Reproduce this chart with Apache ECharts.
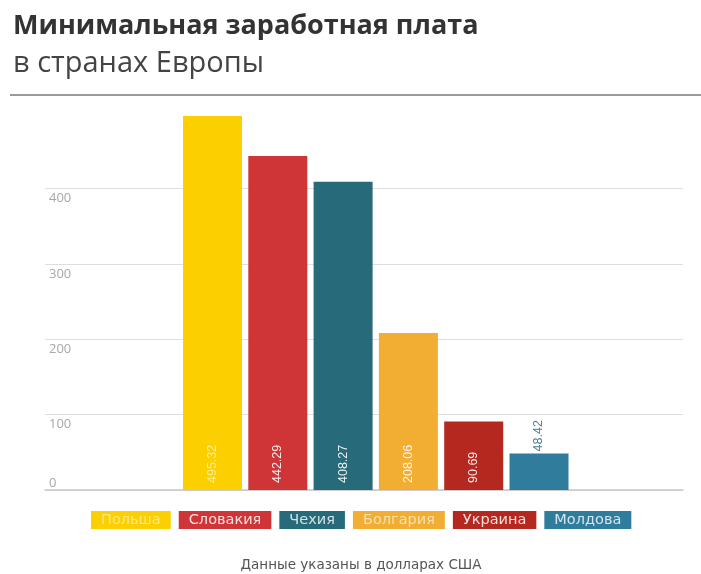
<!DOCTYPE html>
<html><head><meta charset="utf-8">
<script src="https://cdn.jsdelivr.net/npm/echarts@6/dist/echarts.min.js"></script>
<style>html,body{margin:0;padding:0;background:#fff}#c{width:701px;height:574px}</style>
</head><body><div id="c"></div>
<script>
const countries = ['Польша','Словакия','Чехия','Болгария','Украина','Молдова'];
const wages = [495.32, 442.29, 408.27, 208.06, 90.69, 48.42];
const barColors = ['#FCD000','#CF3436','#276B7B','#F2AD33','#B5281F','#2F7C9C'];
const legendTextColors = ['rgba(255,255,255,0.5)','rgba(255,255,255,0.85)','rgba(255,255,255,0.8)','rgba(255,255,255,0.6)','rgba(255,255,255,0.85)','rgba(255,255,255,0.8)'];
const yTicks = [0, 100, 200, 300, 400];
const titleText = 'Минимальная заработная плата';
const subtitleText = 'в странах Европы';
const footerText = 'Данные указаны в долларах США';

const chart = echarts.init(document.getElementById('c'), null, {renderer:'canvas'});
const series = countries.map((name, i) => ({
  name: name,
  type: 'bar',
  xAxisIndex: 0, yAxisIndex: 0,
  barWidth: 59,
  barGap: '-100%',
  itemStyle: { color: barColors[i] },
  data: [[i, wages[i]]],
  label: {
    show: true,
    position: wages[i] < 60 ? 'top' : 'insideBottom',
    rotate: 90,
    align: 'left',
    verticalAlign: 'middle',
    distance: wages[i] < 60 ? 2 : 7,
    color: wages[i] < 60 ? '#4F7F99' : (i === 0 ? 'rgba(255,255,255,0.6)' : 'rgba(255,255,255,0.9)'),
    fontFamily: 'Liberation Sans Narrow, Liberation Sans, sans-serif',
    fontSize: 12.5,
    formatter: p => p.value[1].toFixed(2)
  }
}));

chart.setOption({
  animation: false,
  title: [
    { text: titleText, left: 8, top: 8, textStyle: { fontFamily: 'Open Sans', fontWeight: 'bold', fontSize: 27, color: '#333' } },
    { text: subtitleText, left: 8, top: 44, textStyle: { fontFamily: 'Open Sans', fontWeight: 'normal', fontSize: 29, color: '#444' } }
  ],
  grid: [
    { left: 45, right: 18, top: 112.5, bottom: 84 },
    { left: 45, right: 18, top: 188.5, bottom: 84 }
  ],
  xAxis: [
    { type: 'value', gridIndex: 0, min: -2.565, max: 7.205, show: false },
    { type: 'value', gridIndex: 1, min: 0, max: 1,
      axisLine: { show: true, onZero: false, lineStyle: { color: '#c8c8c8', width: 1.5 } },
      axisTick: { show: false }, axisLabel: { show: false }, splitLine: { show: false } }
  ],
  yAxis: [
    { type: 'value', gridIndex: 0, min: 0, max: 500, show: false, splitLine: { show: false } },
    { type: 'value', gridIndex: 1, min: yTicks[0], max: yTicks[yTicks.length - 1], interval: 100,
      axisLine: { show: false }, axisTick: { show: false },
      splitLine: { lineStyle: { color: '#dedede', width: 1 } },
      axisLabel: {
        inside: true, margin: 4, color: '#a8a8a8', fontFamily: 'Open Sans', fontSize: 13,
        verticalAlign: 'middle',
        formatter: v => v === 0 ? '{z|0}' : '{n|' + v + '}',
        rich: { z: { fontSize: 13, padding: [0, 0, 14, 0] }, n: { fontSize: 13, padding: [20, 0, 0, 0] } }
      }
    }
  ],
  legend: {
    left: 81, top: 506,
    icon: 'none', itemWidth: 0, itemHeight: 14, itemGap: 3,
    selectedMode: false,
    data: countries.map((name, i) => ({
      name: name,
      textStyle: { backgroundColor: barColors[i], color: legendTextColors[i], padding: [2, 10, 1, 10],
        fontFamily: 'DejaVu Sans', fontSize: 14.5 }
    }))
  },
  graphic: [
    { type: 'line', shape: { x1: 10, y1: 95, x2: 701, y2: 95 }, style: { stroke: '#9a9a9a', lineWidth: 2 } },
    { type: 'text', x: 361, y: 565, style: { text: footerText, align: 'center', verticalAlign: 'middle', fill: '#555', font: '13.5px DejaVu Sans' } }
  ],
  series: series
});
</script></body></html>
